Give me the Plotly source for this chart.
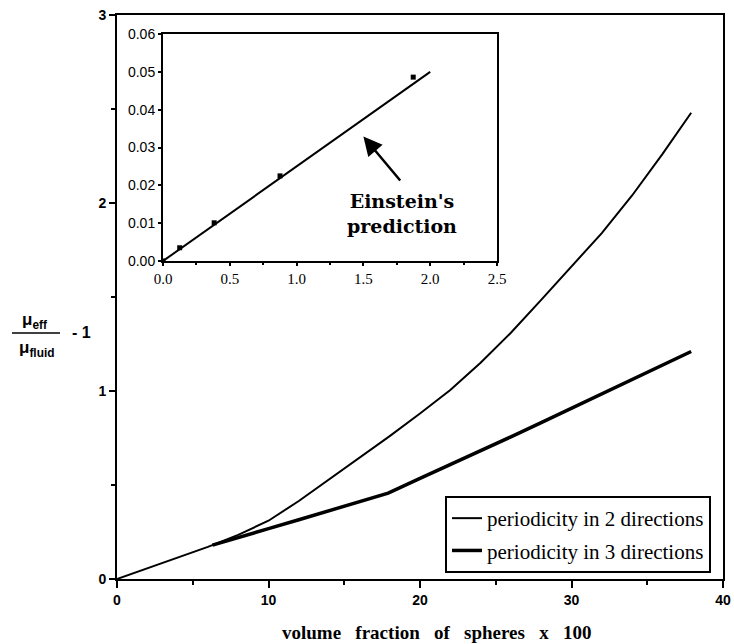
import plotly.graph_objects as go

# Relative viscosity increase vs. volume fraction (x100)
phi_2dir = [0, 2, 4, 6, 8, 10, 12, 14, 16, 18, 20, 22, 24, 26, 28, 30, 32, 34, 36, 37.9]
mu_2dir = [0, 0.057, 0.114, 0.171, 0.235, 0.31, 0.415, 0.53, 0.645, 0.76, 0.88,
           1.005, 1.15, 1.31, 1.485, 1.66, 1.84, 2.04, 2.26, 2.48]

phi_3dir = [6.3, 8, 10, 12, 14, 16, 17.9, 20, 22, 24, 26, 28, 30, 32, 34, 36, 37.9]
mu_3dir = [0.18, 0.222, 0.268, 0.315, 0.364, 0.41, 0.457, 0.535, 0.607, 0.68, 0.756,
           0.832, 0.908, 0.984, 1.06, 1.135, 1.21]

# Dilute limit (inset)
inset_phi = [0, 0.125, 0.383, 0.876, 1.873]
inset_mu = [0, 0.0035, 0.0101, 0.0225, 0.0486]
einstein_phi = [0, 2.0]
einstein_mu = [0, 0.05]

main_xticks = [0, 10, 20, 30, 40]
main_yticks = [0, 1, 2, 3]

# pixel geometry of the main frame
L, R, T, B = 117, 723, 15, 579
W, H = 734, 644
pw, ph = R - L, B - T


def px(x):
    return (x - L) / pw


def py(y):
    return (B - y) / ph


fig = go.Figure()

fig.add_trace(go.Scatter(
    x=phi_2dir, y=mu_2dir, mode="lines", name="periodicity in 2 directions",
    line=dict(color="black", width=2), legendgroup="a",
    xaxis="x", yaxis="y"))
fig.add_trace(go.Scatter(
    x=phi_3dir, y=mu_3dir, mode="lines", name="periodicity in 3 directions",
    line=dict(color="black", width=3.5), legendgroup="b",
    xaxis="x", yaxis="y"))

fig.add_trace(go.Scatter(
    x=einstein_phi, y=einstein_mu, mode="lines", showlegend=False,
    line=dict(color="black", width=2), xaxis="x2", yaxis="y2"))
fig.add_trace(go.Scatter(
    x=inset_phi, y=inset_mu, mode="markers", showlegend=False,
    marker=dict(symbol="square", size=5, color="black"),
    xaxis="x2", yaxis="y2"))

sans_bold = dict(family="Liberation Sans", size=14, color="black", weight="bold")

fig.update_layout(
    width=W, height=H,
    margin=dict(l=L, r=W - R, t=T, b=H - B, autoexpand=False),
    paper_bgcolor="white", plot_bgcolor="white",
    xaxis=dict(
        range=[0, 40], domain=[0, 1], anchor="y", automargin=False,
        tickvals=main_xticks, ticks="outside", ticklen=7, tickwidth=2,
        tickcolor="black", tickfont=sans_bold,
        minor=dict(dtick=5, ticks="outside", ticklen=4, tickwidth=1.5, tickcolor="black"),
        showline=True, linewidth=2, linecolor="black", mirror=True,
        showgrid=False, zeroline=False),
    yaxis=dict(
        range=[0, 3], domain=[0, 1], anchor="x", automargin=False,
        tickvals=main_yticks, ticks="outside", ticklen=6, tickwidth=2,
        tickcolor="black", tickfont=sans_bold,
        minor=dict(dtick=0.5, ticks="outside", ticklen=4, tickwidth=1.5, tickcolor="black"),
        showline=True, linewidth=2, linecolor="black", mirror=True,
        showgrid=False, zeroline=False),
    xaxis2=dict(
        range=[0, 2.5], domain=[px(163), px(497)], anchor="y2", automargin=False,
        dtick=0.5, tickformat=".1f", ticks="outside", ticklen=3, tickwidth=1.5,
        tickcolor="black",
        tickfont=dict(family="Liberation Serif", size=15, color="black"),
        minor=dict(dtick=0.25, ticks="outside", ticklen=2, tickcolor="black"),
        showline=True, linewidth=2, linecolor="black", mirror=True,
        showgrid=False, zeroline=False),
    yaxis2=dict(
        range=[0, 0.06], domain=[py(261), py(34)], anchor="x2", automargin=False,
        dtick=0.01, tickformat=".2f", ticks="outside", ticklen=3, tickwidth=1.5,
        tickcolor="black",
        tickfont=dict(family="Liberation Sans", size=14, color="black"),
        showline=True, linewidth=2, linecolor="black", mirror=True,
        showgrid=False, zeroline=False),
    legend=dict(
        x=px(445), y=py(496), xanchor="left", yanchor="top",
        bgcolor="white", bordercolor="black", borderwidth=2,
        font=dict(family="Liberation Serif", size=21, color="black"),
        tracegroupgap=2, itemwidth=30),
    showlegend=True,
)

# axis title
fig.add_annotation(
    text="volume   fraction   of   spheres   x   100", xref="paper", yref="paper",
    x=px(437), y=py(632), xanchor="center", yanchor="middle", showarrow=False,
    font=dict(family="Liberation Serif", size=19, color="black", weight="bold"))

# y label as a fraction
fig.add_annotation(
    text="\u03bc<sub>eff</sub>", xref="paper", yref="paper",
    x=px(34), y=py(321), xanchor="center", yanchor="middle", showarrow=False,
    font=dict(family="Liberation Sans", size=17, color="black", weight="bold"))
fig.add_annotation(
    text="\u03bc<sub>fluid</sub>", xref="paper", yref="paper",
    x=px(37), y=py(349), xanchor="center", yanchor="middle", showarrow=False,
    font=dict(family="Liberation Sans", size=17, color="black", weight="bold"))
fig.add_annotation(
    text="- 1", xref="paper", yref="paper",
    x=px(81), y=py(332), xanchor="center", yanchor="middle", showarrow=False,
    font=dict(family="Liberation Sans", size=16, color="black", weight="bold"))
fig.add_shape(type="line", xref="paper", yref="paper",
              x0=px(12), x1=px(60), y0=py(333), y1=py(333),
              line=dict(color="black", width=1.5))

# inset annotation
fig.add_annotation(
    text="Einstein's<br>prediction", xref="x2", yref="y2",
    x=1.787, y=0.0125, xanchor="center", yanchor="middle", showarrow=False,
    font=dict(family="DejaVu Serif", size=19, color="black", weight="bold"))
fig.add_annotation(
    text="", xref="x2", yref="y2", x=1.5, y=0.0329,
    axref="x2", ayref="y2", ax=1.785, ay=0.0209,
    showarrow=True, arrowhead=2, arrowsize=1.5, arrowwidth=2.5, arrowcolor="black")

fig.write_html("out.html")
